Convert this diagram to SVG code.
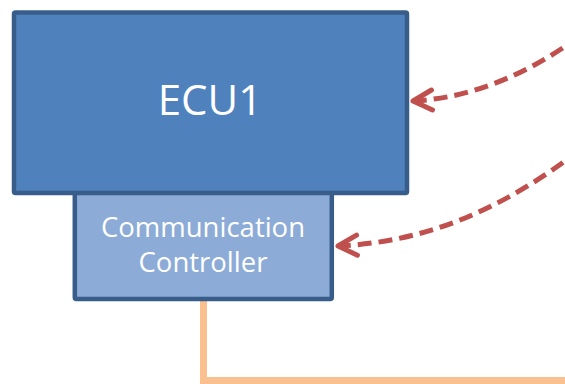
<svg xmlns="http://www.w3.org/2000/svg" width="565" height="384" viewBox="0 0 565 384">
  <defs>
    <style>
      .box { stroke: #385d8a; stroke-width: 4.5; }
      .ecu { fill: #4f81bd; }
      .cc { fill: #8cabd6; }
      .label { fill: #ffffff; font-family: "Open Sans", "Liberation Sans", sans-serif; text-anchor: middle; }
      .bus { fill: none; stroke: #fac08f; stroke-width: 7; }
      .signal { fill: none; stroke: #c0504d; stroke-width: 5; stroke-dasharray: 14 7; marker-end: url(#chevron); }
    </style>
    <marker id="chevron" markerUnits="userSpaceOnUse" viewBox="-24 -14 28 28" markerWidth="28" markerHeight="28" refX="0" refY="0" orient="auto">
      <path d="M -19 -10 L 0 0 L -19 10" fill="none" stroke="#c0504d" stroke-width="5" stroke-linecap="round" stroke-linejoin="round" stroke-dasharray="none"/>
    </marker>
  </defs>

  <!-- bus line leaving the communication controller -->
  <g id="connectors">
    <path class="bus" d="M 203.5 299 L 203.5 380.5 L 570 380.5"/>
    <path class="signal" d="M 580 36 C 525 76 470 98 413 101"/>
    <path class="signal" d="M 580 150 C 505 207 430 242 338 246"/>
  </g>

  <g id="comm-controller">
    <rect class="box cc" x="74.8" y="186" width="257" height="113" rx="1.5"/>
    <text class="label" x="203" y="237" font-size="27.5">Communication</text>
    <text class="label" x="203" y="272" font-size="27.5">Controller</text>
  </g>

  <g id="ecu1">
    <rect class="box ecu" x="14" y="12.5" width="393" height="180.5" rx="1.5"/>
    <text class="label" x="210" y="115" font-size="42">ECU1</text>
  </g>
</svg>
